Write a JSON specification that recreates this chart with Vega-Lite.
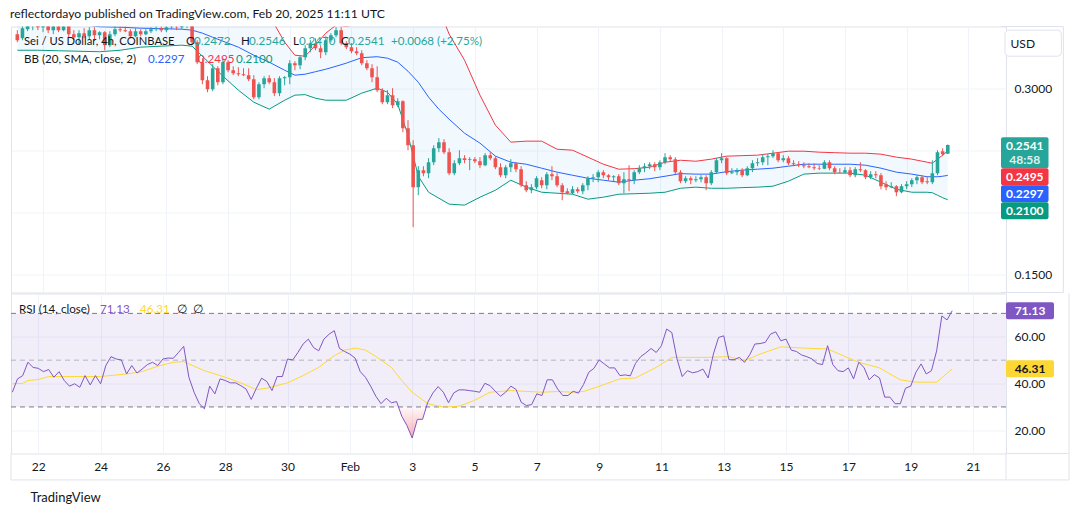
{
"$schema":"https://vega.github.io/schema/vega-lite/v6.json",
"background":"#ffffff",
"padding":{"left":10,"top":7.5,"right":5,"bottom":5},
"title":{"text":"reflectordayo published on TradingView.com, Feb 20, 2025 11:11 UTC","anchor":"start","fontSize":12.2,"fontWeight":"normal","font":"Lato","color":"#131722","offset":5.8},
"config":{"font":"Lato","view":{"stroke":"#e0e3eb","strokeWidth":1},"axis":{"labelFont":"Lato","labelFontSize":12,"labelColor":"#131722","gridColor":"#f0f3fa","gridWidth":1,"domain":false,"ticks":false}},
"spacing":-2,
"datasets":{
"candles":[
{"t":"2025-01-21T04:00Z","o":0.3436,"h":0.3468,"l":0.3371,"c":0.3387,"r":36.3},
{"t":"2025-01-21T08:00Z","o":0.3403,"h":0.3508,"l":0.3387,"c":0.3484,"r":42.0},
{"t":"2025-01-21T12:00Z","o":0.3476,"h":0.3548,"l":0.3460,"c":0.3508,"r":43.4},
{"t":"2025-01-21T16:00Z","o":0.3500,"h":0.3565,"l":0.3468,"c":0.3532,"r":49.1},
{"t":"2025-01-21T20:00Z","o":0.3524,"h":0.3557,"l":0.3468,"c":0.3492,"r":46.9},
{"t":"2025-01-22T00:00Z","o":0.3492,"h":0.3548,"l":0.3452,"c":0.3516,"r":46.5},
{"t":"2025-01-22T04:00Z","o":0.3516,"h":0.3540,"l":0.3444,"c":0.3468,"r":45.1},
{"t":"2025-01-22T08:00Z","o":0.3468,"h":0.3524,"l":0.3436,"c":0.3500,"r":46.0},
{"t":"2025-01-22T12:00Z","o":0.3500,"h":0.3540,"l":0.3452,"c":0.3468,"r":42.7},
{"t":"2025-01-22T16:00Z","o":0.3468,"h":0.3524,"l":0.3460,"c":0.3500,"r":45.1},
{"t":"2025-01-22T20:00Z","o":0.3500,"h":0.3508,"l":0.3411,"c":0.3436,"r":41.3},
{"t":"2025-01-23T00:00Z","o":0.3436,"h":0.3468,"l":0.3387,"c":0.3411,"r":38.9},
{"t":"2025-01-23T04:00Z","o":0.3411,"h":0.3468,"l":0.3355,"c":0.3444,"r":39.9},
{"t":"2025-01-23T08:00Z","o":0.3444,"h":0.3484,"l":0.3403,"c":0.3419,"r":38.4},
{"t":"2025-01-23T12:00Z","o":0.3419,"h":0.3492,"l":0.3395,"c":0.3468,"r":43.4},
{"t":"2025-01-23T16:00Z","o":0.3468,"h":0.3492,"l":0.3387,"c":0.3427,"r":39.4},
{"t":"2025-01-23T20:00Z","o":0.3427,"h":0.3460,"l":0.3395,"c":0.3452,"r":43.4},
{"t":"2025-01-24T00:00Z","o":0.3452,"h":0.3460,"l":0.3306,"c":0.3347,"r":39.9},
{"t":"2025-01-24T04:00Z","o":0.3347,"h":0.3460,"l":0.3331,"c":0.3436,"r":47.7},
{"t":"2025-01-24T08:00Z","o":0.3436,"h":0.3500,"l":0.3419,"c":0.3476,"r":51.5},
{"t":"2025-01-24T12:00Z","o":0.3476,"h":0.3516,"l":0.3452,"c":0.3468,"r":50.5},
{"t":"2025-01-24T16:00Z","o":0.3468,"h":0.3532,"l":0.3452,"c":0.3460,"r":50.1},
{"t":"2025-01-24T20:00Z","o":0.3460,"h":0.3476,"l":0.3403,"c":0.3419,"r":44.1},
{"t":"2025-01-25T00:00Z","o":0.3419,"h":0.3484,"l":0.3411,"c":0.3460,"r":47.7},
{"t":"2025-01-25T04:00Z","o":0.3460,"h":0.3476,"l":0.3419,"c":0.3436,"r":44.5},
{"t":"2025-01-25T08:00Z","o":0.3436,"h":0.3476,"l":0.3427,"c":0.3460,"r":46.2},
{"t":"2025-01-25T12:00Z","o":0.3460,"h":0.3492,"l":0.3444,"c":0.3476,"r":48.1},
{"t":"2025-01-25T16:00Z","o":0.3476,"h":0.3500,"l":0.3460,"c":0.3484,"r":49.1},
{"t":"2025-01-25T20:00Z","o":0.3484,"h":0.3500,"l":0.3452,"c":0.3468,"r":47.7},
{"t":"2025-01-26T00:00Z","o":0.3468,"h":0.3508,"l":0.3452,"c":0.3492,"r":50.5},
{"t":"2025-01-26T04:00Z","o":0.3492,"h":0.3516,"l":0.3476,"c":0.3496,"r":50.9},
{"t":"2025-01-26T08:00Z","o":0.3496,"h":0.3508,"l":0.3468,"c":0.3492,"r":50.8},
{"t":"2025-01-26T12:00Z","o":0.3492,"h":0.3532,"l":0.3476,"c":0.3508,"r":53.3},
{"t":"2025-01-26T16:00Z","o":0.3508,"h":0.3540,"l":0.3484,"c":0.3524,"r":55.9},
{"t":"2025-01-26T20:00Z","o":0.3524,"h":0.3532,"l":0.3355,"c":0.3371,"r":42.7},
{"t":"2025-01-27T00:00Z","o":0.3371,"h":0.3387,"l":0.3194,"c":0.3210,"r":36.3},
{"t":"2025-01-27T04:00Z","o":0.3210,"h":0.3242,"l":0.3032,"c":0.3065,"r":31.4},
{"t":"2025-01-27T08:00Z","o":0.3065,"h":0.3097,"l":0.2968,"c":0.2992,"r":29.2},
{"t":"2025-01-27T12:00Z","o":0.2992,"h":0.3194,"l":0.2976,"c":0.3161,"r":38.9},
{"t":"2025-01-27T16:00Z","o":0.3161,"h":0.3177,"l":0.3024,"c":0.3048,"r":35.6},
{"t":"2025-01-27T20:00Z","o":0.3048,"h":0.3242,"l":0.3032,"c":0.3210,"r":42.0},
{"t":"2025-01-28T00:00Z","o":0.3210,"h":0.3226,"l":0.3129,"c":0.3145,"r":41.3},
{"t":"2025-01-28T04:00Z","o":0.3145,"h":0.3177,"l":0.3105,"c":0.3121,"r":40.3},
{"t":"2025-01-28T08:00Z","o":0.3121,"h":0.3169,"l":0.3097,"c":0.3113,"r":40.3},
{"t":"2025-01-28T12:00Z","o":0.3113,"h":0.3161,"l":0.3097,"c":0.3105,"r":39.1},
{"t":"2025-01-28T16:00Z","o":0.3105,"h":0.3161,"l":0.3057,"c":0.3073,"r":37.7},
{"t":"2025-01-28T20:00Z","o":0.3073,"h":0.3105,"l":0.2911,"c":0.2928,"r":33.2},
{"t":"2025-01-29T00:00Z","o":0.2928,"h":0.3048,"l":0.2911,"c":0.3032,"r":38.0},
{"t":"2025-01-29T04:00Z","o":0.3032,"h":0.3097,"l":0.3000,"c":0.3081,"r":42.3},
{"t":"2025-01-29T08:00Z","o":0.3081,"h":0.3105,"l":0.3032,"c":0.3048,"r":40.9},
{"t":"2025-01-29T12:00Z","o":0.3048,"h":0.3081,"l":0.2936,"c":0.2960,"r":37.0},
{"t":"2025-01-29T16:00Z","o":0.2960,"h":0.3097,"l":0.2936,"c":0.3081,"r":43.0},
{"t":"2025-01-29T20:00Z","o":0.3081,"h":0.3097,"l":0.3024,"c":0.3089,"r":43.0},
{"t":"2025-01-30T00:00Z","o":0.3089,"h":0.3226,"l":0.3032,"c":0.3202,"r":50.5},
{"t":"2025-01-30T04:00Z","o":0.3202,"h":0.3218,"l":0.3145,"c":0.3185,"r":50.1},
{"t":"2025-01-30T08:00Z","o":0.3185,"h":0.3266,"l":0.3153,"c":0.3250,"r":53.3},
{"t":"2025-01-30T12:00Z","o":0.3250,"h":0.3347,"l":0.3226,"c":0.3323,"r":56.9},
{"t":"2025-01-30T16:00Z","o":0.3323,"h":0.3387,"l":0.3290,"c":0.3363,"r":59.0},
{"t":"2025-01-30T20:00Z","o":0.3363,"h":0.3403,"l":0.3306,"c":0.3323,"r":55.4},
{"t":"2025-01-31T00:00Z","o":0.3323,"h":0.3347,"l":0.3242,"c":0.3290,"r":54.0},
{"t":"2025-01-31T04:00Z","o":0.3290,"h":0.3419,"l":0.3266,"c":0.3387,"r":59.0},
{"t":"2025-01-31T08:00Z","o":0.3387,"h":0.3444,"l":0.3371,"c":0.3427,"r":61.1},
{"t":"2025-01-31T12:00Z","o":0.3427,"h":0.3492,"l":0.3411,"c":0.3468,"r":62.6},
{"t":"2025-01-31T16:00Z","o":0.3468,"h":0.3492,"l":0.3347,"c":0.3363,"r":55.0},
{"t":"2025-01-31T20:00Z","o":0.3363,"h":0.3379,"l":0.3315,"c":0.3331,"r":53.7},
{"t":"2025-02-01T00:00Z","o":0.3331,"h":0.3363,"l":0.3282,"c":0.3298,"r":52.6},
{"t":"2025-02-01T04:00Z","o":0.3298,"h":0.3331,"l":0.3266,"c":0.3282,"r":50.9},
{"t":"2025-02-01T08:00Z","o":0.3282,"h":0.3306,"l":0.3185,"c":0.3202,"r":45.1},
{"t":"2025-02-01T12:00Z","o":0.3202,"h":0.3226,"l":0.3145,"c":0.3161,"r":42.7},
{"t":"2025-02-01T16:00Z","o":0.3161,"h":0.3194,"l":0.3048,"c":0.3089,"r":38.9},
{"t":"2025-02-01T20:00Z","o":0.3089,"h":0.3177,"l":0.2968,"c":0.2984,"r":34.6},
{"t":"2025-02-02T00:00Z","o":0.2984,"h":0.3000,"l":0.2871,"c":0.2887,"r":31.4},
{"t":"2025-02-02T04:00Z","o":0.2887,"h":0.2984,"l":0.2871,"c":0.2944,"r":33.7},
{"t":"2025-02-02T08:00Z","o":0.2944,"h":0.3000,"l":0.2839,"c":0.2863,"r":31.8},
{"t":"2025-02-02T12:00Z","o":0.2863,"h":0.2919,"l":0.2847,"c":0.2895,"r":32.3},
{"t":"2025-02-02T16:00Z","o":0.2895,"h":0.2903,"l":0.2645,"c":0.2678,"r":26.0},
{"t":"2025-02-02T20:00Z","o":0.2678,"h":0.2742,"l":0.2500,"c":0.2540,"r":22.0},
{"t":"2025-02-03T00:00Z","o":0.2540,"h":0.2581,"l":0.1879,"c":0.2202,"r":16.7},
{"t":"2025-02-03T04:00Z","o":0.2202,"h":0.2371,"l":0.2137,"c":0.2339,"r":24.7},
{"t":"2025-02-03T08:00Z","o":0.2339,"h":0.2371,"l":0.2290,"c":0.2315,"r":24.7},
{"t":"2025-02-03T12:00Z","o":0.2315,"h":0.2436,"l":0.2274,"c":0.2403,"r":32.0},
{"t":"2025-02-03T16:00Z","o":0.2403,"h":0.2540,"l":0.2379,"c":0.2516,"r":36.0},
{"t":"2025-02-03T20:00Z","o":0.2516,"h":0.2597,"l":0.2484,"c":0.2565,"r":38.7},
{"t":"2025-02-04T00:00Z","o":0.2565,"h":0.2589,"l":0.2468,"c":0.2484,"r":36.3},
{"t":"2025-02-04T04:00Z","o":0.2484,"h":0.2516,"l":0.2298,"c":0.2315,"r":31.8},
{"t":"2025-02-04T08:00Z","o":0.2315,"h":0.2419,"l":0.2298,"c":0.2395,"r":36.0},
{"t":"2025-02-04T12:00Z","o":0.2395,"h":0.2500,"l":0.2379,"c":0.2436,"r":37.3},
{"t":"2025-02-04T16:00Z","o":0.2436,"h":0.2460,"l":0.2395,"c":0.2420,"r":37.3},
{"t":"2025-02-04T20:00Z","o":0.2420,"h":0.2444,"l":0.2339,"c":0.2428,"r":37.0},
{"t":"2025-02-05T00:00Z","o":0.2428,"h":0.2444,"l":0.2395,"c":0.2411,"r":36.7},
{"t":"2025-02-05T04:00Z","o":0.2411,"h":0.2444,"l":0.2355,"c":0.2379,"r":36.3},
{"t":"2025-02-05T08:00Z","o":0.2379,"h":0.2476,"l":0.2371,"c":0.2460,"r":40.1},
{"t":"2025-02-05T12:00Z","o":0.2460,"h":0.2484,"l":0.2419,"c":0.2436,"r":39.1},
{"t":"2025-02-05T16:00Z","o":0.2436,"h":0.2452,"l":0.2347,"c":0.2363,"r":36.7},
{"t":"2025-02-05T20:00Z","o":0.2363,"h":0.2395,"l":0.2282,"c":0.2298,"r":34.6},
{"t":"2025-02-06T00:00Z","o":0.2298,"h":0.2379,"l":0.2274,"c":0.2363,"r":36.3},
{"t":"2025-02-06T04:00Z","o":0.2363,"h":0.2428,"l":0.2323,"c":0.2395,"r":38.9},
{"t":"2025-02-06T08:00Z","o":0.2395,"h":0.2403,"l":0.2323,"c":0.2347,"r":37.5},
{"t":"2025-02-06T12:00Z","o":0.2347,"h":0.2371,"l":0.2202,"c":0.2218,"r":32.0},
{"t":"2025-02-06T16:00Z","o":0.2218,"h":0.2250,"l":0.2161,"c":0.2177,"r":30.6},
{"t":"2025-02-06T20:00Z","o":0.2177,"h":0.2226,"l":0.2153,"c":0.2202,"r":31.0},
{"t":"2025-02-07T00:00Z","o":0.2202,"h":0.2290,"l":0.2185,"c":0.2274,"r":35.6},
{"t":"2025-02-07T04:00Z","o":0.2258,"h":0.2282,"l":0.2193,"c":0.2218,"r":34.9},
{"t":"2025-02-07T08:00Z","o":0.2218,"h":0.2323,"l":0.2185,"c":0.2307,"r":41.6},
{"t":"2025-02-07T12:00Z","o":0.2307,"h":0.2371,"l":0.2258,"c":0.2290,"r":41.6},
{"t":"2025-02-07T16:00Z","o":0.2290,"h":0.2315,"l":0.2202,"c":0.2218,"r":37.7},
{"t":"2025-02-07T20:00Z","o":0.2218,"h":0.2234,"l":0.2097,"c":0.2161,"r":34.9},
{"t":"2025-02-08T00:00Z","o":0.2169,"h":0.2193,"l":0.2145,"c":0.2153,"r":34.9},
{"t":"2025-02-08T04:00Z","o":0.2153,"h":0.2210,"l":0.2145,"c":0.2185,"r":36.7},
{"t":"2025-02-08T08:00Z","o":0.2185,"h":0.2202,"l":0.2153,"c":0.2169,"r":35.9},
{"t":"2025-02-08T12:00Z","o":0.2169,"h":0.2234,"l":0.2145,"c":0.2218,"r":39.6},
{"t":"2025-02-08T16:00Z","o":0.2218,"h":0.2290,"l":0.2177,"c":0.2274,"r":44.8},
{"t":"2025-02-08T20:00Z","o":0.2274,"h":0.2307,"l":0.2242,"c":0.2282,"r":46.5},
{"t":"2025-02-09T00:00Z","o":0.2282,"h":0.2339,"l":0.2242,"c":0.2323,"r":50.1},
{"t":"2025-02-09T04:00Z","o":0.2323,"h":0.2339,"l":0.2274,"c":0.2298,"r":48.4},
{"t":"2025-02-09T08:00Z","o":0.2298,"h":0.2307,"l":0.2258,"c":0.2282,"r":46.7},
{"t":"2025-02-09T12:00Z","o":0.2282,"h":0.2298,"l":0.2250,"c":0.2290,"r":46.7},
{"t":"2025-02-09T16:00Z","o":0.2290,"h":0.2307,"l":0.2218,"c":0.2234,"r":43.4},
{"t":"2025-02-09T20:00Z","o":0.2234,"h":0.2323,"l":0.2153,"c":0.2266,"r":43.7},
{"t":"2025-02-10T00:00Z","o":0.2266,"h":0.2379,"l":0.2169,"c":0.2258,"r":43.3},
{"t":"2025-02-10T04:00Z","o":0.2258,"h":0.2339,"l":0.2226,"c":0.2323,"r":48.6},
{"t":"2025-02-10T08:00Z","o":0.2323,"h":0.2379,"l":0.2307,"c":0.2355,"r":51.5},
{"t":"2025-02-10T12:00Z","o":0.2355,"h":0.2395,"l":0.2323,"c":0.2371,"r":53.1},
{"t":"2025-02-10T16:00Z","o":0.2371,"h":0.2403,"l":0.2347,"c":0.2387,"r":55.0},
{"t":"2025-02-10T20:00Z","o":0.2387,"h":0.2403,"l":0.2331,"c":0.2363,"r":53.3},
{"t":"2025-02-11T00:00Z","o":0.2363,"h":0.2419,"l":0.2339,"c":0.2403,"r":56.2},
{"t":"2025-02-11T04:00Z","o":0.2403,"h":0.2476,"l":0.2387,"c":0.2444,"r":63.3},
{"t":"2025-02-11T08:00Z","o":0.2444,"h":0.2460,"l":0.2411,"c":0.2428,"r":61.8},
{"t":"2025-02-11T12:00Z","o":0.2428,"h":0.2444,"l":0.2307,"c":0.2323,"r":50.5},
{"t":"2025-02-11T16:00Z","o":0.2323,"h":0.2339,"l":0.2234,"c":0.2250,"r":43.0},
{"t":"2025-02-11T20:00Z","o":0.2250,"h":0.2290,"l":0.2234,"c":0.2274,"r":45.5},
{"t":"2025-02-12T00:00Z","o":0.2274,"h":0.2290,"l":0.2226,"c":0.2258,"r":44.6},
{"t":"2025-02-12T04:00Z","o":0.2258,"h":0.2290,"l":0.2242,"c":0.2266,"r":45.1},
{"t":"2025-02-12T08:00Z","o":0.2266,"h":0.2298,"l":0.2242,"c":0.2282,"r":46.2},
{"t":"2025-02-12T12:00Z","o":0.2282,"h":0.2298,"l":0.2177,"c":0.2234,"r":42.4},
{"t":"2025-02-12T16:00Z","o":0.2234,"h":0.2339,"l":0.2218,"c":0.2323,"r":52.6},
{"t":"2025-02-12T20:00Z","o":0.2323,"h":0.2436,"l":0.2307,"c":0.2419,"r":59.7},
{"t":"2025-02-13T00:00Z","o":0.2419,"h":0.2476,"l":0.2395,"c":0.2436,"r":60.4},
{"t":"2025-02-13T04:00Z","o":0.2436,"h":0.2444,"l":0.2298,"c":0.2315,"r":50.2},
{"t":"2025-02-13T08:00Z","o":0.2315,"h":0.2355,"l":0.2307,"c":0.2323,"r":50.2},
{"t":"2025-02-13T12:00Z","o":0.2323,"h":0.2355,"l":0.2298,"c":0.2339,"r":51.2},
{"t":"2025-02-13T16:00Z","o":0.2339,"h":0.2355,"l":0.2282,"c":0.2298,"r":49.1},
{"t":"2025-02-13T20:00Z","o":0.2298,"h":0.2371,"l":0.2290,"c":0.2355,"r":52.3},
{"t":"2025-02-14T00:00Z","o":0.2355,"h":0.2419,"l":0.2323,"c":0.2395,"r":56.9},
{"t":"2025-02-14T04:00Z","o":0.2395,"h":0.2436,"l":0.2371,"c":0.2403,"r":57.1},
{"t":"2025-02-14T08:00Z","o":0.2403,"h":0.2468,"l":0.2379,"c":0.2444,"r":57.6},
{"t":"2025-02-14T12:00Z","o":0.2444,"h":0.2468,"l":0.2379,"c":0.2452,"r":61.1},
{"t":"2025-02-14T16:00Z","o":0.2452,"h":0.2500,"l":0.2436,"c":0.2476,"r":62.1},
{"t":"2025-02-14T20:00Z","o":0.2476,"h":0.2484,"l":0.2403,"c":0.2419,"r":58.3},
{"t":"2025-02-15T00:00Z","o":0.2419,"h":0.2460,"l":0.2403,"c":0.2436,"r":59.0},
{"t":"2025-02-15T04:00Z","o":0.2436,"h":0.2452,"l":0.2379,"c":0.2395,"r":54.3},
{"t":"2025-02-15T08:00Z","o":0.2395,"h":0.2419,"l":0.2371,"c":0.2387,"r":53.7},
{"t":"2025-02-15T12:00Z","o":0.2387,"h":0.2411,"l":0.2363,"c":0.2379,"r":52.2},
{"t":"2025-02-15T16:00Z","o":0.2379,"h":0.2403,"l":0.2355,"c":0.2371,"r":51.5},
{"t":"2025-02-15T20:00Z","o":0.2371,"h":0.2395,"l":0.2355,"c":0.2363,"r":50.5},
{"t":"2025-02-16T00:00Z","o":0.2363,"h":0.2395,"l":0.2339,"c":0.2355,"r":48.6},
{"t":"2025-02-16T04:00Z","o":0.2355,"h":0.2379,"l":0.2339,"c":0.2351,"r":48.1},
{"t":"2025-02-16T08:00Z","o":0.2351,"h":0.2419,"l":0.2347,"c":0.2403,"r":56.2},
{"t":"2025-02-16T12:00Z","o":0.2403,"h":0.2419,"l":0.2339,"c":0.2355,"r":48.1},
{"t":"2025-02-16T16:00Z","o":0.2355,"h":0.2371,"l":0.2307,"c":0.2323,"r":45.5},
{"t":"2025-02-16T20:00Z","o":0.2323,"h":0.2355,"l":0.2315,"c":0.2320,"r":45.1},
{"t":"2025-02-17T00:00Z","o":0.2320,"h":0.2363,"l":0.2315,"c":0.2339,"r":46.7},
{"t":"2025-02-17T04:00Z","o":0.2339,"h":0.2363,"l":0.2282,"c":0.2298,"r":42.0},
{"t":"2025-02-17T08:00Z","o":0.2298,"h":0.2363,"l":0.2282,"c":0.2347,"r":49.1},
{"t":"2025-02-17T12:00Z","o":0.2347,"h":0.2403,"l":0.2323,"c":0.2339,"r":46.9},
{"t":"2025-02-17T16:00Z","o":0.2339,"h":0.2347,"l":0.2266,"c":0.2282,"r":41.6},
{"t":"2025-02-17T20:00Z","o":0.2282,"h":0.2331,"l":0.2266,"c":0.2307,"r":43.8},
{"t":"2025-02-18T00:00Z","o":0.2307,"h":0.2331,"l":0.2274,"c":0.2298,"r":42.4},
{"t":"2025-02-18T04:00Z","o":0.2298,"h":0.2315,"l":0.2185,"c":0.2210,"r":34.2},
{"t":"2025-02-18T08:00Z","o":0.2226,"h":0.2250,"l":0.2177,"c":0.2202,"r":34.2},
{"t":"2025-02-18T12:00Z","o":0.2202,"h":0.2242,"l":0.2193,"c":0.2210,"r":31.4},
{"t":"2025-02-18T16:00Z","o":0.2210,"h":0.2218,"l":0.2129,"c":0.2161,"r":31.4},
{"t":"2025-02-18T20:00Z","o":0.2161,"h":0.2226,"l":0.2153,"c":0.2210,"r":38.0},
{"t":"2025-02-19T00:00Z","o":0.2210,"h":0.2250,"l":0.2185,"c":0.2226,"r":38.9},
{"t":"2025-02-19T04:00Z","o":0.2226,"h":0.2274,"l":0.2202,"c":0.2258,"r":44.8},
{"t":"2025-02-19T08:00Z","o":0.2258,"h":0.2298,"l":0.2226,"c":0.2282,"r":48.4},
{"t":"2025-02-19T12:00Z","o":0.2282,"h":0.2298,"l":0.2226,"c":0.2242,"r":44.1},
{"t":"2025-02-19T16:00Z","o":0.2250,"h":0.2290,"l":0.2226,"c":0.2242,"r":45.5},
{"t":"2025-02-19T20:00Z","o":0.2242,"h":0.2419,"l":0.2226,"c":0.2315,"r":54.0},
{"t":"2025-02-20T00:00Z","o":0.2315,"h":0.2500,"l":0.2298,"c":0.2484,"r":68.9},
{"t":"2025-02-20T04:00Z","o":0.2492,"h":0.2516,"l":0.2452,"c":0.2468,"r":67.2},
{"t":"2025-02-20T08:00Z","o":0.2472,"h":0.2546,"l":0.2470,"c":0.2541,"r":71.13}
],
"bb":[
{"t":"2025-01-21T04:00Z","up":0.3677,"mid":0.3548,"lo":0.3306},
{"t":"2025-01-21T20:00Z","up":0.3677,"mid":0.3540,"lo":0.3306},
{"t":"2025-01-22T12:00Z","up":0.3669,"mid":0.3532,"lo":0.3302},
{"t":"2025-01-23T04:00Z","up":0.3677,"mid":0.3516,"lo":0.3298},
{"t":"2025-01-23T20:00Z","up":0.3694,"mid":0.3496,"lo":0.3294},
{"t":"2025-01-24T12:00Z","up":0.3677,"mid":0.3492,"lo":0.3306},
{"t":"2025-01-25T04:00Z","up":0.3645,"mid":0.3484,"lo":0.3331},
{"t":"2025-01-25T20:00Z","up":0.3629,"mid":0.3480,"lo":0.3339},
{"t":"2025-01-26T12:00Z","up":0.3613,"mid":0.3476,"lo":0.3347},
{"t":"2025-01-26T20:00Z","up":0.3597,"mid":0.3468,"lo":0.3339},
{"t":"2025-01-27T04:00Z","up":0.3629,"mid":0.3444,"lo":0.3258},
{"t":"2025-01-27T12:00Z","up":0.3645,"mid":0.3411,"lo":0.3177},
{"t":"2025-01-27T20:00Z","up":0.3661,"mid":0.3379,"lo":0.3097},
{"t":"2025-01-28T08:00Z","up":0.3677,"mid":0.3331,"lo":0.2984},
{"t":"2025-01-28T20:00Z","up":0.3669,"mid":0.3266,"lo":0.2887},
{"t":"2025-01-29T08:00Z","up":0.3589,"mid":0.3210,"lo":0.2831},
{"t":"2025-01-29T20:00Z","up":0.3371,"mid":0.3145,"lo":0.2903},
{"t":"2025-01-30T04:00Z","up":0.3266,"mid":0.3105,"lo":0.2944},
{"t":"2025-01-30T12:00Z","up":0.3258,"mid":0.3113,"lo":0.2948},
{"t":"2025-01-30T20:00Z","up":0.3347,"mid":0.3133,"lo":0.2919},
{"t":"2025-01-31T04:00Z","up":0.3444,"mid":0.3153,"lo":0.2903},
{"t":"2025-01-31T12:00Z","up":0.3508,"mid":0.3177,"lo":0.2903},
{"t":"2025-01-31T20:00Z","up":0.3500,"mid":0.3202,"lo":0.2903},
{"t":"2025-02-01T08:00Z","up":0.3516,"mid":0.3246,"lo":0.2960},
{"t":"2025-02-01T20:00Z","up":0.3508,"mid":0.3254,"lo":0.3000},
{"t":"2025-02-02T04:00Z","up":0.3516,"mid":0.3242,"lo":0.2968},
{"t":"2025-02-02T12:00Z","up":0.3589,"mid":0.3210,"lo":0.2871},
{"t":"2025-02-02T20:00Z","up":0.3686,"mid":0.3137,"lo":0.2621},
{"t":"2025-02-03T04:00Z","up":0.3806,"mid":0.3048,"lo":0.2290},
{"t":"2025-02-03T12:00Z","up":0.3750,"mid":0.2928,"lo":0.2161},
{"t":"2025-02-03T20:00Z","up":0.3645,"mid":0.2831,"lo":0.2113},
{"t":"2025-02-04T04:00Z","up":0.3436,"mid":0.2750,"lo":0.2065},
{"t":"2025-02-04T16:00Z","up":0.3226,"mid":0.2637,"lo":0.2057},
{"t":"2025-02-05T04:00Z","up":0.2944,"mid":0.2557,"lo":0.2121},
{"t":"2025-02-05T16:00Z","up":0.2702,"mid":0.2452,"lo":0.2177},
{"t":"2025-02-06T04:00Z","up":0.2565,"mid":0.2403,"lo":0.2258},
{"t":"2025-02-06T16:00Z","up":0.2573,"mid":0.2387,"lo":0.2202},
{"t":"2025-02-07T04:00Z","up":0.2573,"mid":0.2355,"lo":0.2161},
{"t":"2025-02-07T16:00Z","up":0.2508,"mid":0.2323,"lo":0.2153},
{"t":"2025-02-08T04:00Z","up":0.2500,"mid":0.2298,"lo":0.2145},
{"t":"2025-02-08T16:00Z","up":0.2444,"mid":0.2274,"lo":0.2105},
{"t":"2025-02-09T04:00Z","up":0.2387,"mid":0.2258,"lo":0.2121},
{"t":"2025-02-09T16:00Z","up":0.2347,"mid":0.2242,"lo":0.2145},
{"t":"2025-02-10T04:00Z","up":0.2351,"mid":0.2258,"lo":0.2149},
{"t":"2025-02-10T16:00Z","up":0.2363,"mid":0.2270,"lo":0.2153},
{"t":"2025-02-11T04:00Z","up":0.2403,"mid":0.2290,"lo":0.2161},
{"t":"2025-02-11T16:00Z","up":0.2419,"mid":0.2311,"lo":0.2193},
{"t":"2025-02-12T04:00Z","up":0.2411,"mid":0.2307,"lo":0.2202},
{"t":"2025-02-12T16:00Z","up":0.2428,"mid":0.2307,"lo":0.2193},
{"t":"2025-02-13T04:00Z","up":0.2452,"mid":0.2327,"lo":0.2193},
{"t":"2025-02-13T16:00Z","up":0.2456,"mid":0.2339,"lo":0.2198},
{"t":"2025-02-14T04:00Z","up":0.2460,"mid":0.2347,"lo":0.2202},
{"t":"2025-02-14T16:00Z","up":0.2476,"mid":0.2355,"lo":0.2210},
{"t":"2025-02-15T04:00Z","up":0.2492,"mid":0.2371,"lo":0.2250},
{"t":"2025-02-15T16:00Z","up":0.2492,"mid":0.2387,"lo":0.2307},
{"t":"2025-02-16T04:00Z","up":0.2484,"mid":0.2387,"lo":0.2315},
{"t":"2025-02-16T16:00Z","up":0.2480,"mid":0.2387,"lo":0.2315},
{"t":"2025-02-17T04:00Z","up":0.2476,"mid":0.2387,"lo":0.2315},
{"t":"2025-02-17T16:00Z","up":0.2476,"mid":0.2379,"lo":0.2298},
{"t":"2025-02-18T04:00Z","up":0.2468,"mid":0.2355,"lo":0.2242},
{"t":"2025-02-18T16:00Z","up":0.2444,"mid":0.2323,"lo":0.2185},
{"t":"2025-02-19T04:00Z","up":0.2428,"mid":0.2307,"lo":0.2161},
{"t":"2025-02-19T16:00Z","up":0.2403,"mid":0.2286,"lo":0.2161},
{"t":"2025-02-19T20:00Z","up":0.2395,"mid":0.2286,"lo":0.2157},
{"t":"2025-02-20T00:00Z","up":0.2428,"mid":0.2286,"lo":0.2137},
{"t":"2025-02-20T04:00Z","up":0.2460,"mid":0.2290,"lo":0.2117},
{"t":"2025-02-20T08:00Z","up":0.2495,"mid":0.2297,"lo":0.2100}
],
"ma":[
{"t":"2025-01-21T04:00Z","ma":39.9},{"t":"2025-01-21T12:00Z","ma":40.1},{"t":"2025-01-21T16:00Z","ma":41.3},{"t":"2025-01-22T00:00Z","ma":41.7},{"t":"2025-01-22T08:00Z","ma":43.0},{"t":"2025-01-23T04:00Z","ma":43.0},{"t":"2025-01-24T00:00Z","ma":43.0},{"t":"2025-01-24T20:00Z","ma":44.1},{"t":"2025-01-25T08:00Z","ma":45.1},{"t":"2025-01-25T20:00Z","ma":47.4},{"t":"2025-01-26T08:00Z","ma":49.1},{"t":"2025-01-26T16:00Z","ma":49.4},{"t":"2025-01-26T20:00Z","ma":48.4},{"t":"2025-01-27T08:00Z","ma":45.5},{"t":"2025-01-28T00:00Z","ma":42.7},{"t":"2025-01-28T12:00Z","ma":40.3},{"t":"2025-01-29T00:00Z","ma":37.4},{"t":"2025-01-29T08:00Z","ma":38.0},{"t":"2025-01-30T00:00Z","ma":40.3},{"t":"2025-01-30T12:00Z","ma":43.4},{"t":"2025-01-31T00:00Z","ma":46.9},{"t":"2025-01-31T12:00Z","ma":51.9},{"t":"2025-01-31T20:00Z","ma":54.3},{"t":"2025-02-01T04:00Z","ma":55.2},{"t":"2025-02-01T12:00Z","ma":54.3},{"t":"2025-02-01T20:00Z","ma":51.6},{"t":"2025-02-02T08:00Z","ma":46.9},{"t":"2025-02-02T16:00Z","ma":41.3},{"t":"2025-02-03T00:00Z","ma":36.3},{"t":"2025-02-03T12:00Z","ma":31.4},{"t":"2025-02-04T00:00Z","ma":29.9},{"t":"2025-02-04T12:00Z","ma":30.3},{"t":"2025-02-05T00:00Z","ma":32.8},{"t":"2025-02-05T12:00Z","ma":36.3},{"t":"2025-02-06T04:00Z","ma":37.0},{"t":"2025-02-07T04:00Z","ma":36.3},{"t":"2025-02-07T16:00Z","ma":36.6},{"t":"2025-02-08T04:00Z","ma":36.3},{"t":"2025-02-08T12:00Z","ma":36.6},{"t":"2025-02-09T04:00Z","ma":39.6},{"t":"2025-02-09T16:00Z","ma":42.0},{"t":"2025-02-10T04:00Z","ma":42.4},{"t":"2025-02-10T20:00Z","ma":46.9},{"t":"2025-02-11T08:00Z","ma":51.2},{"t":"2025-02-11T20:00Z","ma":51.2},{"t":"2025-02-12T12:00Z","ma":51.2},{"t":"2025-02-13T04:00Z","ma":51.5},{"t":"2025-02-13T16:00Z","ma":49.8},{"t":"2025-02-14T04:00Z","ma":52.6},{"t":"2025-02-14T20:00Z","ma":55.7},{"t":"2025-02-15T12:00Z","ma":55.2},{"t":"2025-02-16T08:00Z","ma":54.8},{"t":"2025-02-16T20:00Z","ma":51.9},{"t":"2025-02-17T08:00Z","ma":49.1},{"t":"2025-02-18T00:00Z","ma":46.7},{"t":"2025-02-18T16:00Z","ma":41.6},{"t":"2025-02-19T04:00Z","ma":40.6},{"t":"2025-02-19T20:00Z","ma":40.6},{"t":"2025-02-20T08:00Z","ma":46.31}
]
},
"vconcat":[
{
"width":995,"height":266,
"data":{"name":"candles"},
"layer":[
{"data":{"name":"bb"},"mark":{"type":"area","color":"#2196f3","opacity":0.06,"clip":true},
 "encoding":{"x":{"field":"t","type":"temporal","scale":{"type":"utc","domain":[1737428300000,1740187500000],"nice":false},
   "axis":{"orient":"bottom","values":[1737504000000,1737676800000,1737849600000,1738022400000,1738195200000,1738368000000,1738540800000,1738713600000,1738886400000,1739059200000,1739232000000,1739404800000,1739577600000,1739750400000,1739923200000,1740096000000],"labels":false,"ticks":false,"domain":false,"grid":true,"title":null,"minExtent":0,"maxExtent":0}},
  "y":{"field":"up","type":"quantitative","scale":{"domain":[0.13524,0.34976],"nice":false,"zero":false},
   "axis":{"orient":"right","values":[0.15,0.2,0.25,0.3],"labelExpr":"datum.value == 0.3 || datum.value == 0.15 ? format(datum.value, '.4f') : ''","grid":true,"title":null,"labelPadding":8}},
  "y2":{"field":"lo"}}},
{"data":{"name":"bb"},"mark":{"type":"line","color":"#f23645","strokeWidth":1,"clip":true},"encoding":{"x":{"field":"t","type":"temporal"},"y":{"field":"up","type":"quantitative"}}},
{"data":{"name":"bb"},"mark":{"type":"line","color":"#2962ff","strokeWidth":1,"clip":true},"encoding":{"x":{"field":"t","type":"temporal"},"y":{"field":"mid","type":"quantitative"}}},
{"data":{"name":"bb"},"mark":{"type":"line","color":"#089981","strokeWidth":1,"clip":true},"encoding":{"x":{"field":"t","type":"temporal"},"y":{"field":"lo","type":"quantitative"}}},
{"mark":{"type":"rule","strokeWidth":1,"clip":true},"encoding":{"x":{"field":"t","type":"temporal"},"y":{"field":"l","type":"quantitative"},"y2":{"field":"h"},"color":{"condition":{"test":"datum.c >= datum.o","value":"#26a69a"},"value":"#ef5350"}}},
{"mark":{"type":"bar","width":3.6,"clip":true},"encoding":{"x":{"field":"t","type":"temporal"},"y":{"field":"o","type":"quantitative"},"y2":{"field":"c"},"color":{"condition":{"test":"datum.c >= datum.o","value":"#26a69a"},"value":"#ef5350"}}},
{"data":{"values":[{}]},
 "layer":[
  {"mark":{"type":"rule","color":"#e0e3eb","strokeWidth":1},"encoding":{"x":{"datum":1740187500000,"type":"temporal"},"x2":{"datum":1740362200000},"y":{"datum":0.34976}}},
  {"mark":{"type":"rule","color":"#e0e3eb","strokeWidth":1},"encoding":{"x":{"datum":1740187500000,"type":"temporal"},"x2":{"datum":1740362200000},"y":{"datum":0.13524}}},
  {"mark":{"type":"rule","color":"#e0e3eb","strokeWidth":1},"encoding":{"x":{"datum":1740362200000,"type":"temporal"},"y":{"datum":0.34976},"y2":{"datum":0.13524}}},
  {"mark":{"type":"rect","color":"#26a69a","cornerRadius":2},"encoding":{"x":{"datum":1740187500000,"type":"temporal"},"x2":{"datum":1740320600000},"y":{"datum":0.2605},"y2":{"datum":0.2355}}},
  {"mark":{"type":"rect","color":"#f23645","cornerRadius":2},"encoding":{"x":{"datum":1740187500000,"type":"temporal"},"x2":{"datum":1740320600000},"y":{"datum":0.2355},"y2":{"datum":0.2218}}},
  {"mark":{"type":"rect","color":"#2962ff","cornerRadius":2},"encoding":{"x":{"datum":1740187500000,"type":"temporal"},"x2":{"datum":1740320600000},"y":{"datum":0.2218},"y2":{"datum":0.2081}}},
  {"mark":{"type":"rect","color":"#089981","cornerRadius":2},"encoding":{"x":{"datum":1740187500000,"type":"temporal"},"x2":{"datum":1740320600000},"y":{"datum":0.2081},"y2":{"datum":0.1944}}},
  {"mark":{"type":"text","text":"0.2541","color":"#ffffff","fontSize":12,"fontWeight":"bold","align":"center","baseline":"middle"},"encoding":{"x":{"datum":1740254050000,"type":"temporal"},"y":{"datum":0.2532}}},
  {"mark":{"type":"text","text":"48:58","color":"#ffffff","opacity":0.85,"fontSize":12,"fontWeight":"bold","align":"center","baseline":"middle"},"encoding":{"x":{"datum":1740254050000,"type":"temporal"},"y":{"datum":0.2419}}},
  {"mark":{"type":"text","text":"0.2495","color":"#ffffff","fontSize":12,"fontWeight":"bold","align":"center","baseline":"middle"},"encoding":{"x":{"datum":1740254050000,"type":"temporal"},"y":{"datum":0.2286}}},
  {"mark":{"type":"text","text":"0.2297","color":"#ffffff","fontSize":12,"fontWeight":"bold","align":"center","baseline":"middle"},"encoding":{"x":{"datum":1740254050000,"type":"temporal"},"y":{"datum":0.2149}}},
  {"mark":{"type":"text","text":"0.2100","color":"#ffffff","fontSize":12,"fontWeight":"bold","align":"center","baseline":"middle"},"encoding":{"x":{"datum":1740254050000,"type":"temporal"},"y":{"datum":0.2012}}},
  {"mark":{"type":"rect","fill":"#ffffff","stroke":"#e0e3eb","strokeWidth":1,"cornerRadius":4},"encoding":{"x":{"datum":1740198600000,"type":"temporal"},"x2":{"datum":1740356650000},"y":{"datum":0.3468},"y2":{"datum":0.3258}}},
  {"mark":{"type":"text","text":"USD","color":"#131722","fontSize":12,"align":"center","baseline":"middle"},"encoding":{"x":{"datum":1740248500000,"type":"temporal"},"y":{"datum":0.3355}}},
  {"mark":{"type":"text","text":"Sei / US Dollar, 4h, COINBASE","color":"#131722","fontSize":11.2,"align":"left","baseline":"middle","dx":8},"encoding":{"x":{"datum":1737428300000,"type":"temporal"},"y":{"datum":0.3373}}},
  {"mark":{"type":"text","text":"O","color":"#131722","fontSize":11.6,"align":"left","baseline":"middle","dx":170},"encoding":{"x":{"datum":1737428300000,"type":"temporal"},"y":{"datum":0.3373}}},
  {"mark":{"type":"text","text":"0.2472","color":"#26a69a","fontSize":11.6,"align":"left","baseline":"middle","dx":178},"encoding":{"x":{"datum":1737428300000,"type":"temporal"},"y":{"datum":0.3373}}},
  {"mark":{"type":"text","text":"H","color":"#131722","fontSize":11.6,"align":"left","baseline":"middle","dx":225},"encoding":{"x":{"datum":1737428300000,"type":"temporal"},"y":{"datum":0.3373}}},
  {"mark":{"type":"text","text":"0.2546","color":"#26a69a","fontSize":11.6,"align":"left","baseline":"middle","dx":233},"encoding":{"x":{"datum":1737428300000,"type":"temporal"},"y":{"datum":0.3373}}},
  {"mark":{"type":"text","text":"L","color":"#131722","fontSize":11.6,"align":"left","baseline":"middle","dx":277},"encoding":{"x":{"datum":1737428300000,"type":"temporal"},"y":{"datum":0.3373}}},
  {"mark":{"type":"text","text":"0.2470","color":"#26a69a","fontSize":11.6,"align":"left","baseline":"middle","dx":283},"encoding":{"x":{"datum":1737428300000,"type":"temporal"},"y":{"datum":0.3373}}},
  {"mark":{"type":"text","text":"C","color":"#131722","fontSize":11.6,"align":"left","baseline":"middle","dx":325},"encoding":{"x":{"datum":1737428300000,"type":"temporal"},"y":{"datum":0.3373}}},
  {"mark":{"type":"text","text":"0.2541","color":"#26a69a","fontSize":11.6,"align":"left","baseline":"middle","dx":332},"encoding":{"x":{"datum":1737428300000,"type":"temporal"},"y":{"datum":0.3373}}},
  {"mark":{"type":"text","text":"+0.0068 (+2.75%)","color":"#26a69a","fontSize":11.6,"align":"left","baseline":"middle","dx":375},"encoding":{"x":{"datum":1737428300000,"type":"temporal"},"y":{"datum":0.3373}}},
  {"mark":{"type":"text","text":"BB (20, SMA, close, 2)","color":"#131722","fontSize":11.6,"align":"left","baseline":"middle","dx":8},"encoding":{"x":{"datum":1737428300000,"type":"temporal"},"y":{"datum":0.3226}}},
  {"mark":{"type":"text","text":"0.2297","color":"#2962ff","fontSize":11.6,"align":"left","baseline":"middle","dx":132},"encoding":{"x":{"datum":1737428300000,"type":"temporal"},"y":{"datum":0.3226}}},
  {"mark":{"type":"text","text":"0.2495","color":"#f23645","fontSize":11.6,"align":"left","baseline":"middle","dx":182},"encoding":{"x":{"datum":1737428300000,"type":"temporal"},"y":{"datum":0.3226}}},
  {"mark":{"type":"text","text":"0.2100","color":"#089981","fontSize":11.6,"align":"left","baseline":"middle","dx":220},"encoding":{"x":{"datum":1737428300000,"type":"temporal"},"y":{"datum":0.3226}}}
 ]}
]
},
{
"width":995,"height":160,
"data":{"name":"candles"},
"title":{"text":"TradingView","orient":"bottom","anchor":"start","fontSize":13,"fontWeight":"normal","color":"#131722","dx":20,"offset":12},
"layer":[
{"data":{"values":[{}]},"mark":{"type":"rect","color":"#7e57c2","opacity":0.1},"encoding":{"x":{"datum":1737428300000,"type":"temporal"},"x2":{"datum":1740187500000},"y":{"datum":70},"y2":{"datum":30}}},
{"data":{"values":[{}]},"mark":{"type":"rule","color":"#787b86","strokeDash":[5,4],"strokeWidth":1},"encoding":{"y":{"datum":70}}},
{"data":{"values":[{}]},"mark":{"type":"rule","color":"#787b86","strokeOpacity":0.5,"strokeDash":[5,4],"strokeWidth":1},"encoding":{"y":{"datum":50}}},
{"data":{"values":[{}]},"mark":{"type":"rule","color":"#787b86","strokeDash":[5,4],"strokeWidth":1},"encoding":{"y":{"datum":30}}},
{"transform":[{"filter":"time(datum.t) >= 1738497600000 && time(datum.t) <= 1738584000000"}],
 "mark":{"type":"area","clip":true,"color":{"gradient":"linear","x1":0,"y1":0,"x2":0,"y2":1,"stops":[{"offset":0,"color":"rgba(242,54,69,0)"},{"offset":0.15,"color":"rgba(242,54,69,0.03)"},{"offset":1,"color":"rgba(242,54,69,0.4)"}]}},
 "encoding":{"x":{"field":"t","type":"temporal"},"y":{"field":"r","type":"quantitative"},"y2":{"datum":30}}},
{"data":{"name":"ma"},"mark":{"type":"line","color":"#fdd835","strokeWidth":1,"clip":true},"encoding":{"x":{"field":"t","type":"temporal"},"y":{"field":"ma","type":"quantitative"}}},
{"mark":{"type":"line","color":"#7e57c2","strokeWidth":1,"clip":true},
 "encoding":{"x":{"field":"t","type":"temporal","scale":{"type":"utc","domain":[1737428300000,1740187500000],"nice":false},
   "axis":{"orient":"bottom","values":[1737504000000,1737676800000,1737849600000,1738022400000,1738195200000,1738368000000,1738540800000,1738713600000,1738886400000,1739059200000,1739232000000,1739404800000,1739577600000,1739750400000,1739923200000,1740096000000],"labelExpr":"utcdate(datum.value) == 1 ? 'Feb' : '' + utcdate(datum.value)","grid":true,"title":null,"labelPadding":8,"labelOverlap":false,"labelFlush":false}},
  "y":{"field":"r","type":"quantitative","scale":{"domain":[10.1,78.5],"nice":false,"zero":false},
   "axis":{"orient":"right","values":[20,40,60],"format":".2f","grid":true,"title":null,"labelPadding":8}}}},
{"data":{"values":[{}]},
 "layer":[
  {"mark":{"type":"rule","color":"#e0e3eb","strokeWidth":1},"encoding":{"x":{"datum":1740362200000,"type":"temporal"},"y":{"datum":78.5},"y2":{"datum":-1.2}}},
  {"mark":{"type":"rule","color":"#e0e3eb","strokeWidth":1},"encoding":{"x":{"datum":1740187500000,"type":"temporal"},"y":{"datum":10.1},"y2":{"datum":-1.2}}},
  {"mark":{"type":"rule","color":"#e0e3eb","strokeWidth":1},"encoding":{"x":{"datum":1737428300000,"type":"temporal"},"y":{"datum":10.1},"y2":{"datum":-1.2}}},
  {"mark":{"type":"rule","color":"#e0e3eb","strokeWidth":1},"encoding":{"x":{"datum":1737428300000,"type":"temporal"},"x2":{"datum":1740362200000},"y":{"datum":-1.2}}},
  {"mark":{"type":"rule","color":"#e0e3eb","strokeWidth":1},"encoding":{"x":{"datum":1740187500000,"type":"temporal"},"x2":{"datum":1740362200000},"y":{"datum":10.1}}},
  {"mark":{"type":"rect","color":"#7e57c2","cornerRadius":2},"encoding":{"x":{"datum":1740187500000,"type":"temporal"},"x2":{"datum":1740320600000},"y":{"datum":74.76},"y2":{"datum":67.5}}},
  {"mark":{"type":"rect","color":"#fdd835","cornerRadius":2},"encoding":{"x":{"datum":1740187500000,"type":"temporal"},"x2":{"datum":1740320600000},"y":{"datum":49.94},"y2":{"datum":42.68}}},
  {"mark":{"type":"text","text":"71.13","color":"#ffffff","fontSize":12,"fontWeight":"bold","align":"center","baseline":"middle"},"encoding":{"x":{"datum":1740254050000,"type":"temporal"},"y":{"datum":71.13}}},
  {"mark":{"type":"text","text":"46.31","color":"#131722","fontSize":12,"fontWeight":"bold","align":"center","baseline":"middle"},"encoding":{"x":{"datum":1740254050000,"type":"temporal"},"y":{"datum":46.31}}},
  {"mark":{"type":"text","text":"RSI (14, close)","color":"#131722","fontSize":11.6,"align":"left","baseline":"middle","dx":8},"encoding":{"x":{"datum":1737428300000,"type":"temporal"},"y":{"datum":71.4}}},
  {"mark":{"type":"text","text":"71.13","color":"#7e57c2","fontSize":11.6,"align":"left","baseline":"middle","dx":89},"encoding":{"x":{"datum":1737428300000,"type":"temporal"},"y":{"datum":71.4}}},
  {"mark":{"type":"text","text":"46.31","color":"#fdd835","fontSize":11.6,"align":"left","baseline":"middle","dx":129},"encoding":{"x":{"datum":1737428300000,"type":"temporal"},"y":{"datum":71.4}}},
  {"mark":{"type":"text","text":"∅","color":"#131722","fontSize":11.6,"align":"left","baseline":"middle","dx":166},"encoding":{"x":{"datum":1737428300000,"type":"temporal"},"y":{"datum":71.4}}},
  {"mark":{"type":"text","text":"∅","color":"#131722","fontSize":11.6,"align":"left","baseline":"middle","dx":182},"encoding":{"x":{"datum":1737428300000,"type":"temporal"},"y":{"datum":71.4}}}
 ]}
]
}
]
}
